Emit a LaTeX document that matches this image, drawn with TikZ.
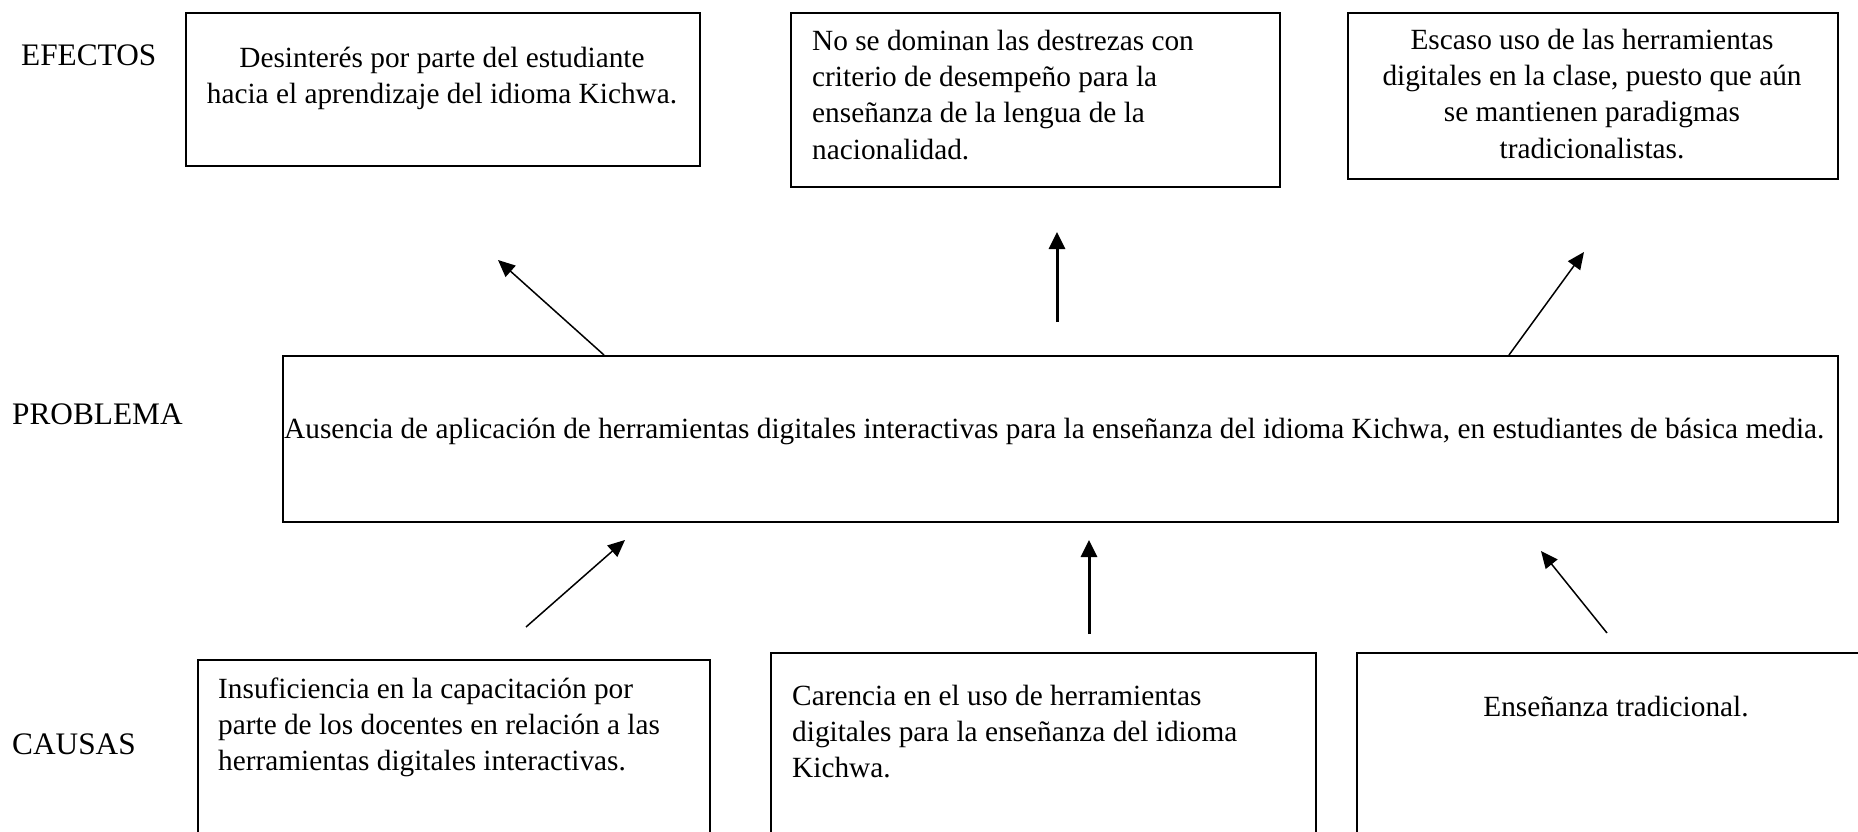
\documentclass[tikz,border=0pt]{standalone}
\usepackage{fontspec}
\setmainfont{Liberation Serif}
\usetikzlibrary{arrows.meta}
\newcommand\btxt{\fontsize{29.3}{36.3}\selectfont\lineskiplimit=-50pt}
\newcommand\ltxt{\fontsize{31.3}{37}\selectfont}
\newcommand\fst{\rule{0pt}{24pt}}
\begin{document}
\begin{tikzpicture}[x=1pt,y=-1pt,
  box/.style={draw, line width=2pt, inner sep=0pt, anchor=north west},
  mtxt/.style={inner sep=0pt, font=\btxt},
  lbl/.style={inner sep=0pt, font=\ltxt, anchor=base west},
  arr/.style={-{Triangle[length=17pt,width=15pt]}, line width=1.5pt},
  arrthick/.style={-{Triangle[length=17pt,width=16pt]}, line width=3pt}]
\useasboundingbox (0,0) rectangle (1858,832);
\clip (0,0) rectangle (1858,832);
% labels
\node[lbl] (lef) at (21,66) {EFECTOS};
\node[lbl] (lpr) at (12,424) {PROBLEMA};
\node[lbl] (lca) at (12,754) {CAUSAS};
% effect boxes
\node[box, minimum width=514pt, minimum height=153pt] (e1) at (185,12) {};
\node[mtxt, align=center, anchor=north] (e1t) at (442,43)
  {\fst Desinterés por parte del estudiante\\hacia el aprendizaje del idioma Kichwa.};
\node[box, minimum width=489pt, minimum height=174pt] (e2) at (790,12) {};
\node[mtxt, align=left, anchor=north west] (e2t) at (812,26)
  {\fst No se dominan las destrezas con\\criterio de desempeño para la\\enseñanza de la lengua de la\\nacionalidad.};
\node[box, minimum width=490pt, minimum height=166pt] (e3) at (1347,12) {};
\node[mtxt, align=center, anchor=north] (e3t) at (1592,25)
  {\fst Escaso uso de las herramientas\\digitales en la clase, puesto que aún\\se mantienen paradigmas\\tradicionalistas.};
% problem
\node[box, minimum width=1555pt, minimum height=166pt] (p) at (282,355) {};
\node[mtxt, anchor=base west] (pt) at (284,438)
  {Ausencia de aplicación de herramientas digitales interactivas para la enseñanza del idioma Kichwa, en estudiantes de básica media.};
% cause boxes
\node[box, minimum width=512pt, minimum height=300pt] (c1) at (197,659) {};
\node[mtxt, align=left, anchor=north west] (c1t) at (218,674)
  {\fst Insuficiencia en la capacitación por\\parte de los docentes en relación a las\\herramientas digitales interactivas.};
\node[box, minimum width=545pt, minimum height=300pt] (c2) at (770,652) {};
\node[mtxt, align=left, anchor=north west] (c2t) at (792,681)
  {\fst Carencia en el uso de herramientas\\digitales para la enseñanza del idioma\\Kichwa.};
\node[box, minimum width=600pt, minimum height=300pt] (c3) at (1356,652) {};
\node[mtxt, anchor=base] (c3t) at (1616,716) {Enseñanza tradicional.};
% arrow coordinates
\coordinate (x1) at (604,0);
\coordinate (x3) at (1509,0);
\coordinate (e1tip) at (498,260);
\coordinate (e2s) at (1057,322);
\coordinate (e2tip) at (1057,232);
\coordinate (e3tip) at (1584,252);
\coordinate (c1s) at (526,627);
\coordinate (c1tip) at (625,540);
\coordinate (c2s) at (1089,634);
\coordinate (c2tip) at (1089,540);
\coordinate (c3s) at (1607,633);
\coordinate (c3tip) at (1541,551);
% arrows
\draw[arr] (p.north -| x1) -- (e1tip);
\draw[arrthick] (e2s) -- (e2tip);
\draw[arr] (p.north -| x3) -- (e3tip);
\draw[arr] (c1s) -- (c1tip);
\draw[arrthick] (c2s) -- (c2tip);
\draw[arr] (c3s) -- (c3tip);
\end{tikzpicture}
\end{document}
